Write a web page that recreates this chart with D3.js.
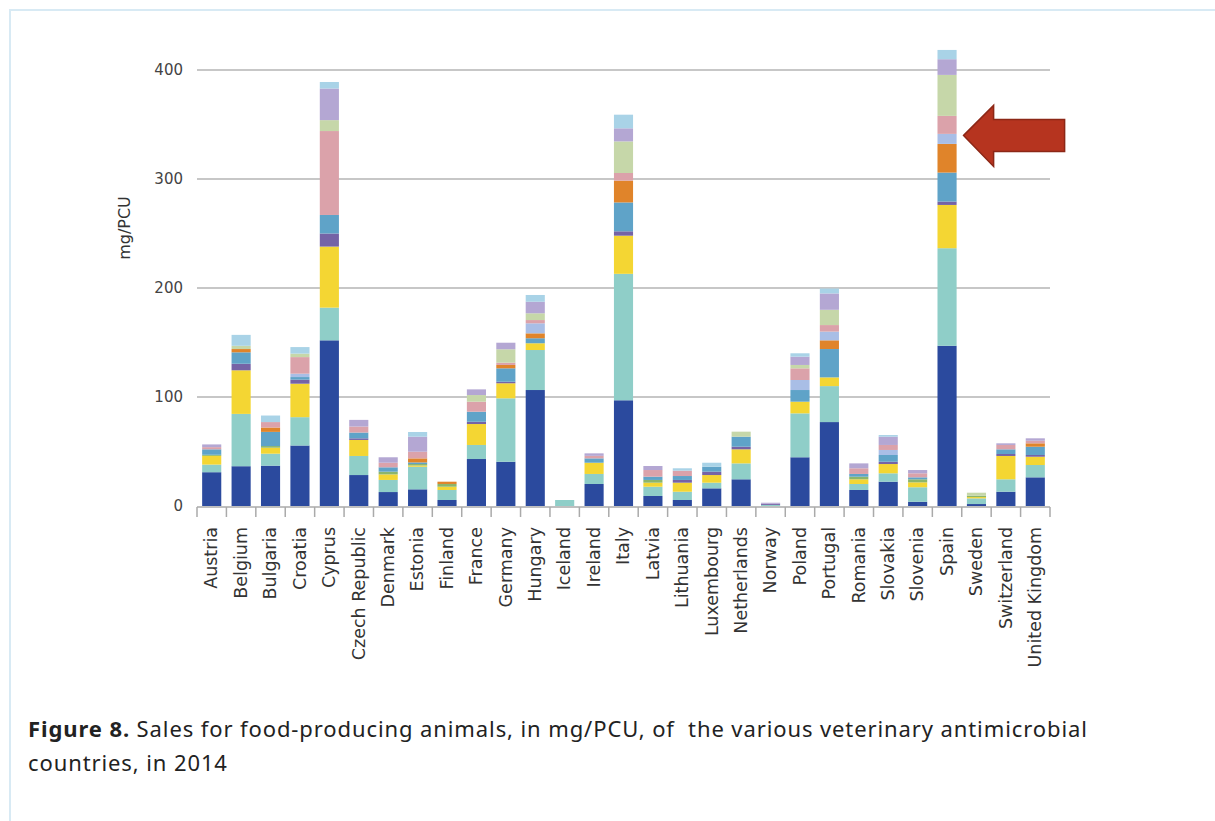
<!DOCTYPE html>
<html>
<head>
<meta charset="utf-8">
<script src="https://cdn.jsdelivr.net/npm/d3@7/dist/d3.min.js"></script>
<style>
  body { margin: 0; background: #fff; }
  svg text { font-family: "DejaVu Sans", Verdana, sans-serif; }
</style>
</head>
<body>
<div id="chart"></div>
<script>
// countries on the x axis
var countries = ["Austria","Belgium","Bulgaria","Croatia","Cyprus","Czech Republic","Denmark","Estonia",
  "Finland","France","Germany","Hungary","Iceland","Ireland","Italy","Latvia","Lithuania","Luxembourg",
  "Netherlands","Norway","Poland","Portugal","Romania","Slovakia","Slovenia","Spain","Sweden",
  "Switzerland","United Kingdom"];

// one array per antimicrobial class (bottom of stack first), mg/PCU
var darkBlue  = [31,36.5,37,55.5,152,28.4,12.8,15.3,5.5,43.1,40.6,106.4,0,20.2,97,9.2,5.5,16.2,24.5,0,44.7,77,14.7,22.3,3.9,147,1.8,13.1,26.3];
var teal      = [7,48,11,26,30,17.5,11.1,20.7,9.2,12.9,58.2,36.7,5.5,9.2,116,8.5,7.6,5.2,14.6,1,40.3,33,5.5,7.7,13.3,89.5,5.2,11.4,11.3];
var yellow    = [8,40,5.5,30.7,56,14.7,5.1,1.2,3,19.2,13.8,6.2,0,10.3,35,3.7,8.3,7,12.9,0,10.7,8,4.3,8.5,4.5,39.7,1.2,21.4,7.6];
var purple    = [0,6,0,3.7,12,1.5,0,0,0,2.1,1.4,0,0,0,4,0,2.5,3.1,2.4,1,0,0,0,2.1,0,3.1,0,1.8,1.6];
var green     = [1,0,1.5,0,0,0,2.5,1.3,2.5,0,0,0,0,0,0,2.5,0,0,0,0,0,0,2.4,0,2.8,0,1.3,0,0];
var steel     = [5,10.5,13,2.4,17,5.3,4,1.5,0,9.2,12.3,4.6,0,4,26.5,3,3.6,4.5,9.2,0,10.7,26,2.5,6.2,1.8,26.6,0,4.3,7.6];
var orange    = [0,3,4,0,0,0,0,3.7,2.1,0,3.1,4.5,0,0,20,0,0,0,0,0,0,8,0,0,0,26.3,0,0,3.1];
var lightBlue = [0,0,0,3.1,0,0,0,0,0,0,0,9.2,0,0,0,0,0,0,0,0,9.2,8,0,4.6,0,9.2,0,0,0];
var pink      = [2,0,5,15.2,77,5.5,4.2,6.1,0,9.2,2.1,3,0,2.3,7,6.1,4.9,0,0,0,10.7,6,5.2,4.6,3.7,16.5,0,4,2.4];
var sage      = [0,3,0,3.2,10,0,0,0,0,6.1,12.3,6.2,0,0,29,0,0,0,4.6,0,3.1,14,0,0,0,37.6,2.7,0,0];
var lavender  = [2.5,0,0,0,29,6.1,5,13.8,0,5.2,6,10.6,0,2.3,12,3.7,0,0,0,1,7.6,15,4.5,7.6,3,14.4,0,1.5,2.2];
var sky       = [0,10,6,6,6,0,0,4.3,0,0,0,6.2,0,0,12.5,0,2.2,3.7,0,0,3.1,4.5,0,1.5,0,8.5,0,0,0];

var yTicks = [0,100,200,300,400];

var series = [
  {key:"c1",  values:darkBlue,  color:"#2b4a9e"},
  {key:"c2",  values:teal,      color:"#8fcec8"},
  {key:"c3",  values:yellow,    color:"#f4d633"},
  {key:"c4",  values:purple,    color:"#7563a6"},
  {key:"c5",  values:green,     color:"#8cb56c"},
  {key:"c6",  values:steel,     color:"#5fa3c8"},
  {key:"c7",  values:orange,    color:"#e0842a"},
  {key:"c8",  values:lightBlue, color:"#a9bee6"},
  {key:"c9",  values:pink,      color:"#dba2aa"},
  {key:"c10", values:sage,      color:"#c6d7a9"},
  {key:"c11", values:lavender,  color:"#b4a7d3"},
  {key:"c12", values:sky,       color:"#a9d3e7"}
];

var table = countries.map(function(c, i){
  var row = {country: c};
  series.forEach(function(s){ row[s.key] = s.values[i]; });
  return row;
});

var width = 1215, height = 821;

var svg = d3.select("#chart").append("svg")
    .attr("width", width)
    .attr("height", height);

// page card outline
svg.append("rect")
    .attr("x", 10).attr("y", 10)
    .attr("width", width + 20).attr("height", height + 20)
    .attr("fill", "none")
    .attr("stroke", "#d8eaf4")
    .attr("stroke-width", 2);

var x = d3.scaleBand()
    .domain(countries)
    .range([197, 1050])
    .paddingInner(0.35)
    .paddingOuter(0.175);

var y = d3.scaleLinear()
    .domain([0, 400])
    .range([506, 70]);

// gridlines
svg.append("g")
  .selectAll("line")
  .data(yTicks.filter(function(d){ return d > 0; }))
  .enter().append("line")
    .attr("x1", 197).attr("x2", 1050)
    .attr("y1", function(d){ return y(d); })
    .attr("y2", function(d){ return y(d); })
    .attr("stroke", "#b4b4b4")
    .attr("stroke-width", 1.5);

// y tick labels
svg.append("g")
  .selectAll("text")
  .data(yTicks)
  .enter().append("text")
    .attr("x", 183)
    .attr("y", function(d){ return y(d); })
    .attr("dy", "0.35em")
    .attr("text-anchor", "end")
    .attr("font-size", 15)
    .attr("fill", "#444")
    .text(function(d){ return d; });

svg.append("text")
    .attr("transform", "translate(124,228) rotate(-90)")
    .attr("text-anchor", "middle")
    .attr("dy", "0.35em")
    .attr("font-size", 16)
    .attr("fill", "#333")
    .text("mg/PCU");

// stacked bars
var stack = d3.stack().keys(series.map(function(s){ return s.key; }));
var layers = stack(table);

svg.append("g")
  .selectAll("g")
  .data(layers)
  .enter().append("g")
    .attr("fill", function(d, i){ return series[i].color; })
  .selectAll("rect")
  .data(function(d){ return d; })
  .enter().append("rect")
    .attr("x", function(d){ return x(d.data.country); })
    .attr("width", x.bandwidth())
    .attr("y", function(d){ return y(d[1]); })
    .attr("height", function(d){ return y(d[0]) - y(d[1]); });

// bottom axis: line plus ticks between the bars
var axisG = svg.append("g");
axisG.append("line")
    .attr("x1", 197).attr("x2", 1050)
    .attr("y1", 507).attr("y2", 507)
    .attr("stroke", "#aaa")
    .attr("stroke-width", 1.5);

var boundaries = countries.map(function(c){ return x(c) - x.step() * x.paddingOuter(); });
boundaries.push(1050);
axisG.selectAll("line.tick")
  .data(boundaries)
  .enter().append("line")
    .attr("class", "tick")
    .attr("x1", function(d){ return d; })
    .attr("x2", function(d){ return d; })
    .attr("y1", 507).attr("y2", 517)
    .attr("stroke", "#aaa")
    .attr("stroke-width", 1.5);

axisG.selectAll("text")
  .data(countries)
  .enter().append("text")
    .attr("transform", function(d){
      return "translate(" + (x(d) + x.bandwidth() / 2) + ",527) rotate(-90)";
    })
    .attr("dy", "0.33em")
    .attr("text-anchor", "end")
    .attr("font-size", 17.5)
    .attr("fill", "#333")
    .text(function(d){ return d; });

// red arrow pointing at Spain
var tipX = x("Spain") + x.bandwidth() + 7,
    tipY = y(340);
var arrow = d3.path();
arrow.moveTo(tipX, tipY);
arrow.lineTo(tipX + 30, tipY - 30);
arrow.lineTo(tipX + 30, tipY - 16);
arrow.lineTo(tipX + 101, tipY - 16);
arrow.lineTo(tipX + 101, tipY + 16);
arrow.lineTo(tipX + 30, tipY + 16);
arrow.lineTo(tipX + 30, tipY + 31);
arrow.closePath();
svg.append("path")
    .attr("d", arrow.toString())
    .attr("fill", "#b6341f")
    .attr("stroke", "#8c2716")
    .attr("stroke-width", 1.5);

// caption
var cap = svg.append("text")
    .attr("x", 28)
    .attr("y", 737)
    .attr("font-size", 22)
    .attr("letter-spacing", 0.9)
    .attr("fill", "#222")
    .style("font-family", "'Noto Sans', sans-serif")
    .style("white-space", "pre");
cap.append("tspan").attr("font-weight", "bold").text("Figure 8.");
cap.append("tspan").text(" Sales for food-producing animals, in mg/PCU, of  the various veterinary antimicrobial");
svg.append("text")
    .attr("x", 28)
    .attr("y", 771)
    .attr("font-size", 22)
    .attr("letter-spacing", 0.9)
    .attr("fill", "#222")
    .style("font-family", "'Noto Sans', sans-serif")
    .text("countries, in 2014");
</script>
</body>
</html>
